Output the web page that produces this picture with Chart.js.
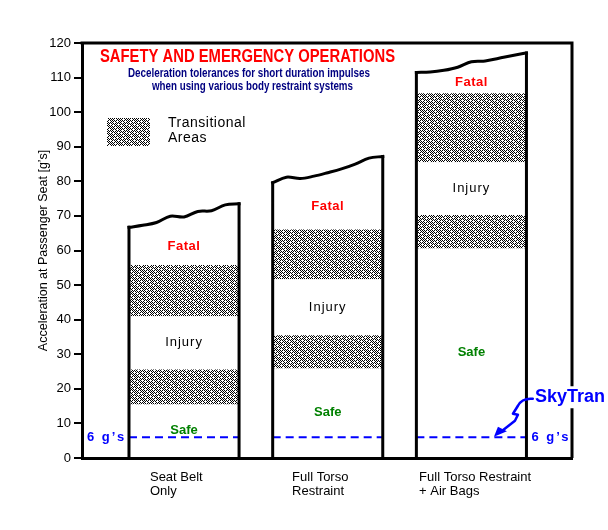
<!DOCTYPE html>
<html>
<head>
<meta charset="utf-8">
<title>Safety and Emergency Operations</title>
<script src="https://cdn.jsdelivr.net/npm/chart.js@4.4.1/dist/chart.umd.min.js"></script>
<style>
  html, body { margin: 0; padding: 0; background: #fff; }
</style>
</head>
<body>
<canvas id="chart_out" width="608" height="530"></canvas>
<script>
// ---- DATA (g's) ----
var categories = [['Seat Belt', 'Only'], ['Full Torso', 'Restraint'], ['Full Torso Restraint', '+ Air Bags']];
var safeTop = [15.5, 25.9, 60.6];     // top of the safe zone
var trans1Top = [25.6, 35.5, 70.3];   // top of the lower transitional area
var injuryTop = [41.0, 51.7, 85.5];   // top of the injury zone
var trans2Top = [55.8, 66.1, 105.5];  // top of the upper transitional area
// ragged top edge of the fatal zone, left to right across each bar
var fatalEdge1 = [66.7, 67.3, 68.1, 69.9, 69.7, 71.3, 71.5, 73.2, 73.5];
var fatalEdge2 = [79.6, 81.2, 80.8, 81.5, 82.5, 83.6, 85.0, 86.7, 87.2];
var fatalEdge3 = [111.5, 111.6, 112.1, 113.0, 114.6, 114.8, 115.6, 116.4, 117.1];
var fatalEdges = [fatalEdge1, fatalEdge2, fatalEdge3];
var skyTranLimit = 6;
var yMin = 0;
var yMax = 120;
var yStep = 10;

// ---- LAYOUT ----
var BAR_FRAC = 0.766;          // bar width as part of one category step
var HALF = BAR_FRAC / 2;
var X_MIN = -0.71;
var X_MAX = 2.70;
var labelShift = [-0.237, -0.248, -0.364]; // x labels start left of the bar centre
var FONT = "'Liberation Sans', Arial, Helvetica, sans-serif";
var BLUE = '#0000ff';

// Chart.js sizes bars from the smallest gap between ticks, so scale the ratio to it
var minTickGap = 1;
for (var g = 1; g < labelShift.length; g++) {
  minTickGap = Math.min(minTickGap, 1 + labelShift[g] - labelShift[g - 1]);
}
var barPct = BAR_FRAC / minTickGap;

Chart.defaults.font.family = FONT;
Chart.defaults.color = '#000';

var canvas = document.getElementById('chart_out');
var ctx = canvas.getContext('2d');

// stipple fill for the transitional areas
var tileRows = [
  '#.#.#.#.',
  '.#.#...#',
  '#...#.#.',
  '.#.#.#.#',
  '#.#.#...',
  '...#.#.#',
  '#.#.#.#.',
  '.#...#.#'
];
var tile = document.createElement('canvas');
tile.width = 8;
tile.height = 8;
var tc = tile.getContext('2d');
tc.fillStyle = '#fff';
tc.fillRect(0, 0, 8, 8);
tc.fillStyle = '#000';
for (var ty = 0; ty < 8; ty++) {
  for (var tx = 0; tx < 8; tx++) {
    if (tileRows[ty][tx] === '#') tc.fillRect(tx, ty, 1, 1);
  }
}
var stipple = ctx.createPattern(tile, 'repeat');

function zone(bottoms, tops) {
  var out = [];
  for (var i = 0; i < tops.length; i++) {
    out.push({x: i, y: [bottoms[i], tops[i]]});
  }
  return out;
}
var zeros = safeTop.map(function() { return 0; });
var fatalLow = fatalEdges.map(function(e) { return Math.min.apply(null, e); });

// outline of each bar: the two sides, then the ragged top
var sidePts = [];
var topPts = [];
var dashPts = [];
fatalEdges.forEach(function(edge, i) {
  sidePts.push({x: i - HALF, y: 0}, {x: i - HALF, y: edge[0]}, {x: i, y: null});
  sidePts.push({x: i + HALF, y: edge[edge.length - 1]}, {x: i + HALF, y: 0}, {x: i, y: null});
  edge.forEach(function(v, k) {
    topPts.push({x: i - HALF + BAR_FRAC * k / (edge.length - 1), y: v});
  });
  topPts.push({x: i, y: null});
  dashPts.push({x: i - HALF, y: skyTranLimit}, {x: i + HALF, y: skyTranLimit}, {x: i, y: null});
});

function barSet(label, data, fill) {
  return {
    type: 'bar', label: label, data: data, backgroundColor: fill,
    borderWidth: 0, grouped: false, order: 3,
    barPercentage: barPct, categoryPercentage: 1
  };
}
function lineSet(label, data, opts) {
  var d = {
    type: 'line', label: label, data: data, borderColor: '#000', borderWidth: 3,
    pointRadius: 0, fill: false, spanGaps: false, tension: 0, order: 1,
    borderCapStyle: 'square', borderJoinStyle: 'round'
  };
  for (var k in opts) d[k] = opts[k];
  return d;
}

var zoneLabels = [
  {ds: 0, text: 'Safe', color: '#008000', font: 'bold 13px ' + FONT, spacing: '0px'},
  {ds: 2, text: 'Injury', color: '#000', font: '13px ' + FONT, spacing: '1px'},
  {ds: 4, text: 'Fatal', color: '#ff0000', font: 'bold 13px ' + FONT, spacing: '0.5px'}
];

var zoneTextPlugin = {
  id: 'zoneText',
  afterDatasetsDraw: function(chart) {
    var c = chart.ctx;
    c.save();
    c.textAlign = 'center';
    c.textBaseline = 'middle';
    zoneLabels.forEach(function(z) {
      c.font = z.font;
      c.fillStyle = z.color;
      c.letterSpacing = z.spacing;
      chart.getDatasetMeta(z.ds).data.forEach(function(bar) {
        c.fillText(z.text, bar.x, (bar.y + bar.base) / 2);
      });
    });
    c.restore();
  }
};

// draws text squeezed to a given width (the original uses a condensed face)
function fitText(c, text, cx, cy, w) {
  var m = c.measureText(text).width;
  c.save();
  c.translate(cx, cy);
  c.scale(w / m, 1);
  c.fillText(text, 0, 0);
  c.restore();
}

var extrasPlugin = {
  id: 'extras',
  afterDraw: function(chart) {
    var c = chart.ctx;
    var a = chart.chartArea;
    var xs = chart.scales.x;
    var ys = chart.scales.y;
    c.save();

    // top and right side of the frame
    c.strokeStyle = '#000';
    c.lineWidth = 3;
    c.beginPath();
    c.moveTo(a.left - 1.5, a.top);
    c.lineTo(a.right, a.top);
    c.lineTo(a.right, a.bottom);
    c.stroke();

    // title block
    c.textAlign = 'center';
    c.textBaseline = 'middle';
    c.fillStyle = '#ff0000';
    c.font = "bold 18px 'Liberation Sans Narrow', " + FONT;
    fitText(c, 'SAFETY AND EMERGENCY OPERATIONS', 247.5, 57, 295);
    c.fillStyle = '#000080';
    c.font = "bold 12px 'Liberation Sans Narrow', " + FONT;
    fitText(c, 'Deceleration tolerances for short duration impulses', 249, 73.5, 242);
    fitText(c, 'when using various body restraint systems', 252.5, 86.5, 201);

    // legend for the stippled areas
    c.fillStyle = stipple;
    c.fillRect(107, 118, 43, 28);
    c.fillStyle = '#000';
    c.textAlign = 'left';
    c.font = '14px ' + FONT;
    c.letterSpacing = '0.5px';
    c.fillText('Transitional', 168, 123);
    c.fillText('Areas', 168, 138);

    // 6 g's markers
    var y6 = ys.getPixelForValue(skyTranLimit);
    var barRight = xs.getPixelForValue(2 + HALF);
    c.fillStyle = BLUE;
    c.font = 'bold 13px ' + FONT;
    c.letterSpacing = '2px';
    c.fillText('6 g\u2019s', a.left + 5, y6);
    c.fillText('6 g\u2019s', barRight + 5, y6);

    // SkyTran callout with lightning arrow
    var tipX = barRight - 32.5;
    var tipY = y6 - 0.5;
    c.strokeStyle = BLUE;
    c.lineWidth = 2.5;
    c.lineJoin = 'round';
    c.lineCap = 'round';
    c.beginPath();
    c.moveTo(tipX + 39, tipY - 38);
    c.quadraticCurveTo(tipX + 28, tipY - 39, tipX + 24, tipY - 31);
    c.lineTo(tipX + 19, tipY - 23);
    c.lineTo(tipX + 24, tipY - 22);
    c.lineTo(tipX + 21, tipY - 16);
    c.lineTo(tipX + 7, tipY - 5);
    c.stroke();
    c.fillStyle = BLUE;
    c.beginPath();
    c.moveTo(tipX, tipY);
    c.lineTo(tipX + 4, tipY - 10);
    c.lineTo(tipX + 13, tipY - 5.5);
    c.closePath();
    c.fill();

    c.font = 'bold 18px ' + FONT;
    c.letterSpacing = '0px';
    var tw = c.measureText('SkyTran').width;
    var sx = tipX + 41;
    var sy = tipY - 39.5;
    c.fillStyle = '#fff';
    c.fillRect(sx - 1, sy - 11, tw + 4, 22);
    c.fillStyle = BLUE;
    c.fillText('SkyTran', sx, sy);
    c.restore();
  }
};

var chart = new Chart(ctx, {
  type: 'bar',
  data: {
    datasets: [
      barSet('Safe', zone(zeros, safeTop), '#fff'),
      barSet('Transitional', zone(safeTop, trans1Top), stipple),
      barSet('Injury', zone(trans1Top, injuryTop), '#fff'),
      barSet('Transitional', zone(injuryTop, trans2Top), stipple),
      barSet('Fatal', zone(trans2Top, fatalLow), '#fff'),
      lineSet('6 g', dashPts, {borderColor: BLUE, borderWidth: 2, borderDash: [8, 5], order: 2, borderCapStyle: 'butt'}),
      lineSet('sides', sidePts, {order: 0}),
      lineSet('tops', topPts, {tension: 0.35, order: 0})
    ]
  },
  options: {
    responsive: false,
    devicePixelRatio: 1,
    animation: false,
    layout: {padding: {left: 0, top: 43, right: 36, bottom: 0}},
    plugins: {
      legend: {display: false},
      tooltip: {enabled: false}
    },
    scales: {
      x: {
        type: 'linear',
        min: X_MIN,
        max: X_MAX,
        offset: false,
        bounds: 'data',
        grid: {display: false, offset: false},
        border: {display: true, color: '#000', width: 3},
        afterFit: function(scale) { scale.height = 72; },
        afterBuildTicks: function(scale) {
          scale.ticks = categories.map(function(c, i) { return {value: i + labelShift[i]}; });
        },
        ticks: {
          align: 'start',
          autoSkip: false,
          maxRotation: 0,
          padding: 4,
          font: {size: 13, lineHeight: 1.1},
          color: '#000',
          callback: function(value, index) { return categories[index]; }
        }
      },
      y: {
        min: yMin,
        max: yMax,
        grid: {drawOnChartArea: false, color: '#000', lineWidth: 2, tickLength: 8},
        border: {display: true, color: '#000', width: 3},
        afterFit: function(scale) { scale.width = 82; },
        ticks: {stepSize: yStep, padding: 3, font: {size: 13}, color: '#000'},
        title: {
          display: true,
          text: 'Acceleration at Passenger Seat [g\u2019s]',
          font: {size: 12.5},
          color: '#000',
          padding: {top: 36, bottom: 0}
        }
      }
    }
  },
  plugins: [zoneTextPlugin, extrasPlugin]
});
</script>
</body>
</html>
